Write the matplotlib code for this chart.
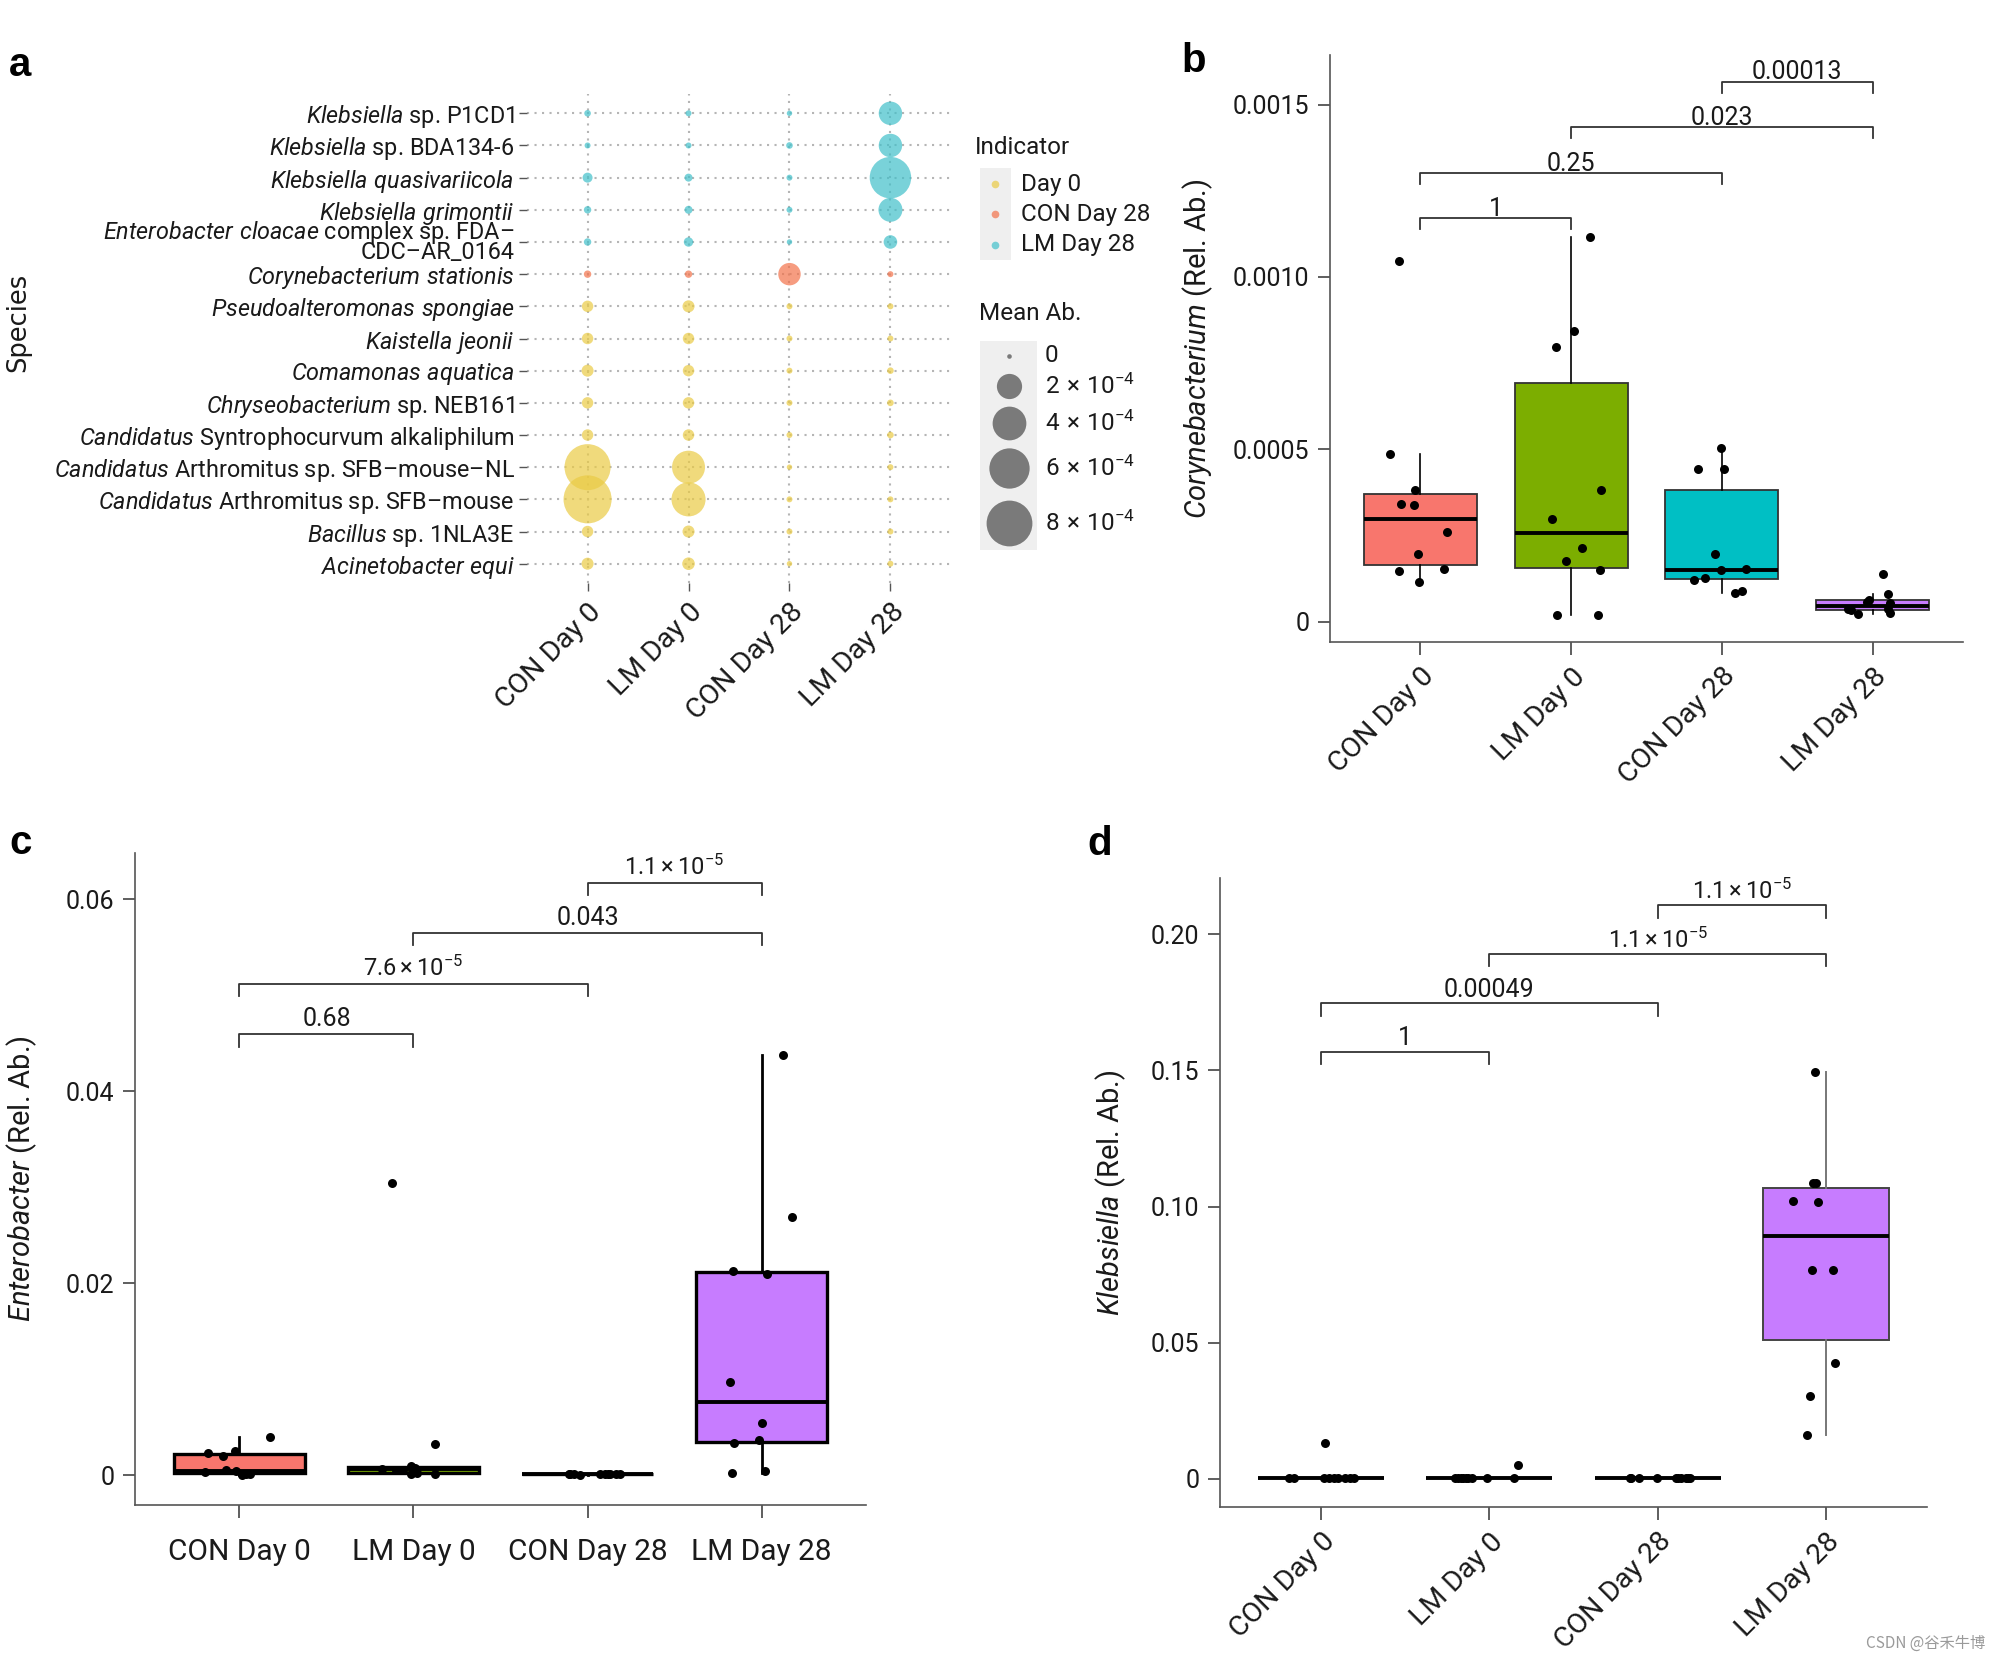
import numpy as np
import matplotlib
matplotlib.use("Agg")
import matplotlib.pyplot as plt
from matplotlib.patches import Rectangle

W, H = 1993, 1659
DPI = 100
FONT = "Roboto"
plt.rcParams['font.family'] = [FONT, 'DejaVu Sans']
plt.rcParams['mathtext.fontset'] = 'custom'
plt.rcParams['mathtext.rm'] = FONT
plt.rcParams['mathtext.it'] = FONT + ':italic'
plt.rcParams['mathtext.bf'] = FONT + ':bold'
TXT = '#1a1a1a'

# ------------------------------------------------------------------ data
groups = ["CON Day 0", "LM Day 0", "CON Day 28", "LM Day 28"]

# panel a
species_italic = ["Klebsiella", "Klebsiella", "Klebsiella quasivariicola", "Klebsiella grimontii",
                  "Enterobacter cloacae", "Corynebacterium stationis", "Pseudoalteromonas spongiae",
                  "Kaistella jeonii", "Comamonas aquatica", "Chryseobacterium", "Candidatus",
                  "Candidatus", "Candidatus", "Bacillus", "Acinetobacter equi"]
species_rest = [" sp. P1CD1", " sp. BDA134-6", "", "", " complex sp. FDA–\nCDC–AR_0164", "", "", "", "",
                " sp. NEB161", " Syntrophocurvum alkaliphilum", " Arthromitus sp. SFB–mouse–NL",
                " Arthromitus sp. SFB–mouse", " sp. 1NLA3E", ""]
indicator = ["LM Day 28"] * 5 + ["CON Day 28"] + ["Day 0"] * 9
indicator_levels = ["Day 0", "CON Day 28", "LM Day 28"]
mean_con_d0 = [1.9e-6, 0.9e-6, 1.37e-5, 3.7e-6, 3.7e-6, 3.7e-6, 2.2e-5, 2.2e-5, 2.6e-5, 2.2e-5,
               2.2e-5, 8.1e-4, 8.9e-4, 2.2e-5, 2.6e-5]
mean_lm_d0 = [0.9e-6, 0.9e-6, 5.4e-6, 5.4e-6, 1.1e-5, 3.7e-6, 2.6e-5, 2.2e-5, 2.2e-5, 2.2e-5,
              2.2e-5, 3.8e-4, 4.1e-4, 2.6e-5, 3.0e-5]
mean_con_d28 = [0.3e-6, 1.9e-6, 0.9e-6, 0.9e-6, 0.3e-6, 1.5e-4, 0.9e-6, 0.9e-6, 0.9e-6, 0.9e-6,
                0.9e-6, 0.3e-6, 0.9e-6, 0.9e-6, 0.3e-6]
mean_lm_d28 = [1.67e-4, 1.67e-4, 6.4e-4, 1.77e-4, 3.8e-5, 0.9e-6, 0.9e-6, 0.9e-6, 1.9e-6, 1.9e-6,
               1.9e-6, 0.9e-6, 0.9e-6, 0.9e-6, 0.9e-6]
size_breaks = [0, 2e-4, 4e-4, 6e-4, 8e-4]
size_labels = ["0", r"$2\,\times\,10^{-4}$", r"$4\,\times\,10^{-4}$", r"$6\,\times\,10^{-4}$",
               r"$8\,\times\,10^{-4}$"]

# panel b : Corynebacterium
b_con_d0 = [10.46e-4, 4.85e-4, 3.82e-4, 3.40e-4, 3.38e-4, 2.60e-4, 1.97e-4, 1.46e-4, 1.53e-4, 1.14e-4]
b_lm_d0 = [11.15e-4, 8.43e-4, 7.96e-4, 3.82e-4, 2.98e-4, 2.14e-4, 1.76e-4, 1.49e-4, 0.18e-4, 0.18e-4]
b_con_d28 = [5.05e-4, 4.43e-4, 4.43e-4, 1.96e-4, 1.49e-4, 1.53e-4, 1.28e-4, 1.21e-4, 0.84e-4, 0.89e-4]
b_lm_d28 = [1.38e-4, 0.80e-4, 0.63e-4, 0.55e-4, 0.38e-4, 0.34e-4, 0.22e-4, 0.36e-4, 0.26e-4, 0.58e-4]
b_jit = [[-0.142, -0.20, -0.037, -0.13, -0.04, 0.176, -0.013, -0.139, 0.159, -0.01],
         [0.122, 0.02, -0.10, 0.196, -0.13, 0.07, -0.034, 0.19, -0.095, 0.176],
         [-0.007, -0.155, 0.014, -0.047, -0.007, 0.162, -0.115, -0.186, 0.085, 0.135],
         [0.069, 0.105, -0.024, 0.118, -0.16, -0.143, -0.094, 0.10, 0.113, -0.04]]
b_ticks = [0, 0.0005, 0.0010, 0.0015]
b_ticklabels = ["0", "0.0005", "0.0010", "0.0015"]
b_brackets = [(0, 1, 11.71e-4, "1"), (0, 2, 13.02e-4, "0.25"), (1, 3, 14.34e-4, "0.023"),
              (2, 3, 15.67e-4, "0.00013")]

# panel c : Enterobacter
c_con_d0 = [0.00397, 0.00233, 0.00202, 0.00254, 0.00035, 0.00004, 0.00015, 0.00010, 0.00040, 0.00052]
c_lm_d0 = [0.0304, 0.00324, 0.0007, 0.00056, 0.00091, 0.0008, 0.00015, 0.0001, 0.0002, 0.0005]
c_con_d28 = [0.00008, 0.00010, 0.00007, 0.00012, 0.00009, 0.00008, 0.00011, 0.00010, 0.00009, 0.00012]
c_lm_d28 = [0.0438, 0.0269, 0.02123, 0.02095, 0.00976, 0.00544, 0.00334, 0.00372, 0.00024, 0.00047]
c_jit = [[0.173, -0.18, -0.095, -0.028, -0.20, 0.016, 0.062, 0.035, -0.02, -0.08],
         [-0.122, 0.125, -0.18, -0.10, -0.013, 0.006, -0.013, 0.125, 0.02, -0.06],
         [-0.108, -0.079, -0.046, 0.069, 0.098, 0.13, 0.165, 0.184, -0.10, 0.12],
         [0.122, 0.174, -0.165, 0.029, -0.184, 0.003, -0.158, -0.013, -0.168, 0.022]]
c_ticks = [0, 0.02, 0.04, 0.06]
c_ticklabels = ["0", "0.02", "0.04", "0.06"]
c_brackets = [(0, 1, 0.04594, "0.68"), (0, 2, 0.05118, r"$7.6\times10^{-5}$"),
              (1, 3, 0.05648, "0.043"), (2, 3, 0.06168, r"$1.1\times10^{-5}$")]

# panel d : Klebsiella
d_con_d0 = [0.013, 0.0002, 0.0001, 0.0002, 0.0001, 0.0002, 0.0001, 0.0002, 0.0001, 0.0002]
d_lm_d0 = [0.0002, 0.0001, 0.0002, 0.0001, 0.0002, 0.0001, 0.0002, 0.005, 0.0001, 0.0002]
d_con_d28 = [0.0001, 0.0001, 0.0001, 0.0001, 0.0001, 0.0001, 0.0001, 0.0001, 0.0001, 0.0001]
d_lm_d28 = [0.1493, 0.1088, 0.1086, 0.1019, 0.1015, 0.0766, 0.0766, 0.0425, 0.0303, 0.0161]
d_jit = [[0.021, -0.19, -0.16, 0.02, 0.046, 0.076, 0.10, 0.145, 0.175, 0.198],
         [-0.204, -0.184, -0.154, -0.124, -0.104, -0.015, 0.147, 0.172, -0.17, -0.14],
         [-0.166, -0.111, -0.005, 0.11, 0.14, 0.169, 0.193, -0.16, 0.12, 0.18],
         [-0.068, -0.078, -0.061, -0.197, -0.047, -0.081, 0.044, 0.052, -0.095, -0.112]]
d_ticks = [0, 0.05, 0.10, 0.15, 0.20]
d_ticklabels = ["0", "0.05", "0.10", "0.15", "0.20"]
d_brackets = [(0, 1, 0.1569, "1"), (0, 2, 0.1746, "0.00049"),
              (1, 3, 0.1928, r"$1.1\times10^{-5}$"), (2, 3, 0.2107, r"$1.1\times10^{-5}$")]

# ------------------------------------------------------------------ styles
box_colors = ["#F8766D", "#7CAE00", "#00BFC4", "#C77CFF"]
ind_colors = {"Day 0": "#EACB45", "CON Day 28": "#F3724A", "LM Day 28": "#41C0CA"}
FS_TICK = 18
FS_XTICK = 20.5
FS_YLAB = 21
FS_BR = 18
FS_BR_MATH = 17
FS_SPECIES = 16.8
FS_LEG = 17.5


def px_rect(x0, y0, x1, y1):
    return [x0 / W, 1 - y1 / H, (x1 - x0) / W, (y1 - y0) / H]


def bubble_area(v):
    r_px = 2.3 + 10.3 * np.sqrt(np.asarray(v, dtype=float) / 2e-4)
    return (2 * r_px * 72.0 / DPI) ** 2


def ital(s):
    if not s:
        return ""
    return r"$\mathit{" + s.replace(" ", r"\ ") + "}$"


fig = plt.figure(figsize=(W / DPI, H / DPI), dpi=DPI)

# ================================================================== panel a
axa = fig.add_axes(px_rect(527, 94, 951, 583))
nrow = len(species_italic)
rows = np.arange(nrow)
for gi, vals in enumerate([mean_con_d0, mean_lm_d0, mean_con_d28, mean_lm_d28]):
    cols = [ind_colors[i] for i in indicator]
    axa.scatter(np.full(nrow, gi), rows, s=bubble_area(vals), c=cols, alpha=0.7,
                linewidths=0, zorder=3)
for gi in range(4):
    axa.axvline(gi, color='#b5b5b5', lw=1.5, ls=(0, (1, 2.6)), zorder=1)
for r in rows:
    axa.axhline(r, color='#b5b5b5', lw=1.5, ls=(0, (1, 2.6)), zorder=1)
axa.set_xlim(-0.6, 3.6)
axa.set_ylim(nrow - 0.4, -0.6)
for sp in axa.spines.values():
    sp.set_visible(False)
axa.set_xticks(range(4))
axa.set_xticklabels(groups, rotation=45, ha='right', va='top', rotation_mode='anchor',
                    fontsize=FS_XTICK, color=TXT)
axa.set_yticks(rows)
ylabs = axa.set_yticklabels([ital(a) + b for a, b in zip(species_italic, species_rest)],
                            fontsize=FS_SPECIES, color=TXT)
for t in ylabs:
    if "\n" in t.get_text():
        t.set_linespacing(0.68)
axa.tick_params(axis='both', length=6, width=1, color='#555555')
axa.tick_params(axis='y', pad=3)
axa.tick_params(axis='x', pad=5)
axa.set_ylabel("Species", fontsize=18.5, color=TXT, family=['DejaVu Sans'])
axa.yaxis.label.set_va('center')
axa.yaxis.set_label_coords((18 - 527) / (951 - 527), 0.532)

# legends of panel a (overlay axis in pixel coordinates)
lax = fig.add_axes([0, 0, 1, 1])
lax.set_xlim(0, W)
lax.set_ylim(H, 0)
lax.axis('off')
lax.text(975, 147, "Indicator", fontsize=FS_LEG, va='center', ha='left', color=TXT)
lax.add_patch(Rectangle((980, 168), 31, 92, color='#EFEFEF', lw=0))
for k, (lab, yy) in enumerate(zip(indicator_levels, [184, 214, 245])):
    lax.scatter([995.5], [yy], s=bubble_area(0.1e-5) * 1.6, c=ind_colors[lab], alpha=0.7, lw=0)
    lax.text(1021, yy, lab, fontsize=FS_LEG, va='center', ha='left', color=TXT)
lax.text(979, 313, "Mean Ab.", fontsize=FS_LEG, va='center', ha='left', color=TXT)
lax.add_patch(Rectangle((980, 341), 57, 209, color='#EFEFEF', lw=0))
for v, lab, yy in zip(size_breaks, size_labels, [356, 386, 423, 468, 523]):
    lax.scatter([1009], [yy], s=bubble_area(v), c='#7a7a7a', lw=0)
    lax.text(1045, yy, lab, fontsize=FS_LEG, va='center', ha='left', color=TXT)


# ================================================================== box panels
def box_panel(rect, data, jit, ticks, ticklabels, ylim, brackets, br_h, br_off, ylabel, ylabel_x,
              rotate, edge, edge_lw, wh_color, wh_lw):
    ax = fig.add_axes(px_rect(*rect))
    bp = ax.boxplot(data, positions=range(4), widths=0.75, patch_artist=True, showfliers=False,
                    whis=1.5, showcaps=False,
                    medianprops=dict(color='black', lw=2.8, solid_capstyle='butt'),
                    boxprops=dict(edgecolor=edge, lw=edge_lw),
                    whiskerprops=dict(color=wh_color, lw=wh_lw))
    for patch, col in zip(bp['boxes'], box_colors):
        patch.set_facecolor(col)
    for gi, (vals, jj) in enumerate(zip(data, jit)):
        ax.scatter(gi + np.asarray(jj), vals, s=42, c='black', lw=0, zorder=4)
    for x1, x2, yb, lab in brackets:
        ax.plot([x1, x1, x2, x2], [yb - br_h, yb, yb, yb - br_h], color='#333333', lw=1.3,
                clip_on=False, zorder=5)
        fs = FS_BR_MATH if lab.startswith('$') else FS_BR
        ax.annotate(lab, ((x1 + x2) / 2, yb), xytext=(0, br_off), textcoords='offset points',
                    ha='center', va='bottom', fontsize=fs, color=TXT, annotation_clip=False)
    ax.set_xlim(-0.6, 3.6)
    ax.set_ylim(*ylim)
    ax.set_yticks(ticks)
    ax.set_yticklabels(ticklabels, fontsize=FS_TICK, color=TXT)
    ax.set_xticks(range(4))
    ax.tick_params(axis='both', length=9, width=1.1, color='#333333')
    if rotate:
        ax.set_xticklabels(groups, rotation=45, ha='right', va='top', rotation_mode='anchor',
                           fontsize=FS_XTICK, color=TXT)
        ax.tick_params(axis='x', pad=6)
    else:
        ax.set_xticklabels(groups, fontsize=21.5, color=TXT)
        ax.tick_params(axis='x', pad=15)
    ax.tick_params(axis='y', pad=6)
    for s in ['top', 'right']:
        ax.spines[s].set_visible(False)
    for s in ['left', 'bottom']:
        ax.spines[s].set_color('#555555')
        ax.spines[s].set_linewidth(1.2)
    ax.set_ylabel(ylabel, fontsize=FS_YLAB, color=TXT)
    ax.yaxis.label.set_va('center')
    ax.yaxis.set_label_coords((ylabel_x - rect[0]) / (rect[2] - rect[0]), 0.5)
    return ax


box_panel((1330, 55, 1963, 642), [b_con_d0, b_lm_d0, b_con_d28, b_lm_d28], b_jit, b_ticks,
          b_ticklabels, (-5.9e-5, 1.644e-3), b_brackets, 0.32e-4, -2,
          ital("Corynebacterium") + " (Rel. Ab.)", 1198, True, '#333333', 1.3, 'black', 1.2)
box_panel((135, 853, 866, 1505), [c_con_d0, c_lm_d0, c_con_d28, c_lm_d28], c_jit, c_ticks,
          c_ticklabels, (-0.0031, 0.0648), c_brackets, 0.0013, 2,
          ital("Enterobacter") + " (Rel. Ab.)", 22, False, 'black', 2.4, 'black', 2.0)
box_panel((1220, 878, 1927, 1507), [d_con_d0, d_lm_d0, d_con_d28, d_lm_d28], d_jit, d_ticks,
          d_ticklabels, (-0.0104, 0.2207), d_brackets, 0.0046, 1,
          ital("Klebsiella") + " (Rel. Ab.)", 1111, True, '#444444', 1.4, '#777777', 1.4)

# panel letters
for lab, x, y in [("a", 9, 76), ("b", 1181, 72), ("c", 9, 854), ("d", 1087, 855)]:
    fig.text(x / W, 1 - y / H, lab, fontsize=29, fontweight='bold', family='Liberation Sans',
             ha='left', va='baseline', color='black')

fig.text(1985 / W, 1 - 1648 / H, "CSDN @谷禾牛博", fontsize=11, color='#9a9a9a', ha='right',
         va='baseline', family=['Noto Sans CJK SC', 'DejaVu Sans'])

fig.savefig("out.png", dpi=DPI, facecolor='white')
